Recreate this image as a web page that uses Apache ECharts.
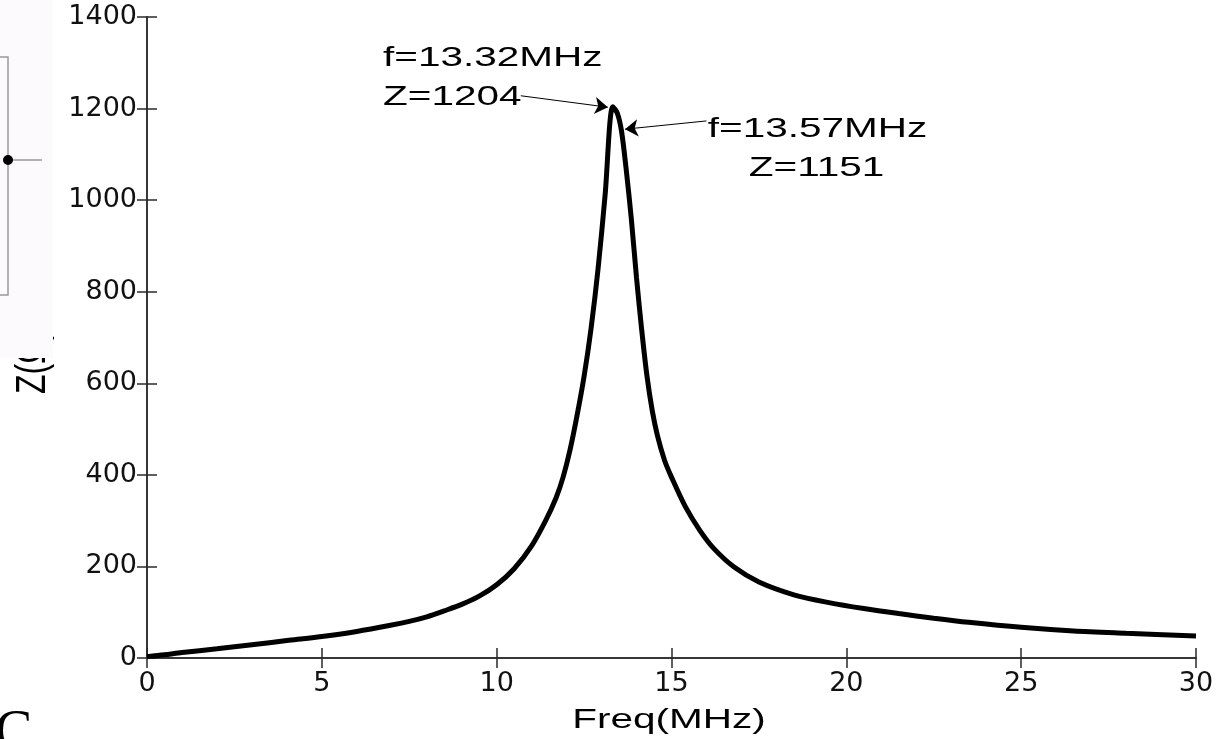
<!DOCTYPE html>
<html>
<head>
<meta charset="utf-8">
<script src="https://cdn.jsdelivr.net/npm/echarts@6/dist/echarts.min.js"></script>
<style>
  html, body { margin: 0; padding: 0; background: #fff; }
  #chart { width: 1227px; height: 739px; }
</style>
</head>
<body>
<div id="chart"></div>
<script>
// impedance curve
const freqMHz = [0, 0.5, 1, 2, 3, 4, 5, 6, 7, 7.5, 8, 8.5, 9, 9.5, 10, 10.5, 11, 11.4, 11.7, 11.9, 12.1, 12.3, 12.5, 12.7, 12.9,
  13.1, 13.32, 13.45, 13.57, 13.7, 13.85, 14.0, 14.15, 14.3, 14.45, 14.6, 14.8, 15.0, 15.4, 15.8, 16.2, 16.8, 17.5, 18.5, 19.5,
  20.5, 21.5, 22.5, 23.5, 25, 26.5, 28, 30]
const impedance = [3, 7, 12, 20, 29, 38, 47, 58, 72, 80, 90, 103, 117, 135, 160, 195, 245, 300, 350, 395, 455, 530, 615, 720, 850,
  1010, 1204, 1190, 1151, 1070, 960, 830, 715, 615, 540, 485, 432, 395, 330, 280, 240, 198, 166, 138, 121,
  108, 97, 87, 78, 67, 59, 54, 48]

// annotations: text + where the text sits (data coords)
const noteTexts = ['f=13.32MHz', 'Z=1204', 'f=13.57MHz', 'Z=1151']
const noteAnchors = [[6.75, 1310], [6.75, 1223], [16.04, 1155], [17.21, 1068]]
// arrows: from text to curve point
const arrowFrom = [[10.69, 1228], [16.0, 1173]]
const arrowTo = [[13.18, 1203], [13.67, 1155]]

const axisColor = '#2a2a2a'
const tickFont = { color: '#111', fontSize: 27, fontFamily: 'DejaVu Sans', formatter: v => String(v) }

const chart = echarts.init(document.getElementById('chart'))

const option = {
  animation: false,
  backgroundColor: '#ffffff',
  grid: { left: 147, right: 31, top: 17, bottom: 81 },
  xAxis: [
    {
      type: 'value', min: 0, max: 30, interval: 5,
      axisLine: { show: true, lineStyle: { color: axisColor, width: 1.5 } },
      axisTick: { show: true, inside: true, length: 10, lineStyle: { color: axisColor, width: 1.5 } },
      axisLabel: { ...tickFont, margin: 12 },
      splitLine: { show: false }
    },
    {
      type: 'value', min: 0, max: 30, interval: 5, position: 'top',
      axisLine: { show: true, lineStyle: { color: axisColor, width: 1.5 } },
      axisTick: { show: true, inside: true, length: 10, lineStyle: { color: axisColor, width: 1.5 } },
      axisLabel: { show: false },
      splitLine: { show: false }
    }
  ],
  yAxis: [
    {
      type: 'value', min: 0, max: 1400, interval: 200,
      axisLine: { show: true, lineStyle: { color: axisColor, width: 1.5 } },
      axisTick: { show: true, inside: true, length: 10, lineStyle: { color: axisColor, width: 1.5 } },
      axisLabel: { ...tickFont, margin: 10 },
      splitLine: { show: false }
    },
    {
      type: 'value', min: 0, max: 1400, interval: 200, position: 'right',
      axisLine: { show: true, lineStyle: { color: axisColor, width: 1.5 } },
      axisTick: { show: true, inside: true, length: 10, lineStyle: { color: axisColor, width: 1.5 } },
      axisLabel: { show: false },
      splitLine: { show: false }
    }
  ],
  series: [
    {
      type: 'line',
      data: freqMHz.map((f, i) => [f, impedance[i]]),
      showSymbol: false,
      smooth: 0.3,
      lineStyle: { color: '#000', width: 5 },
      silent: true,
      z: 2,
      markLine: {
        silent: true,
        symbol: ['none', 'arrow'],
        symbolSize: 13,
        z: 5,
        label: { show: false },
        emphasis: { disabled: true },
        lineStyle: { color: '#000', width: 1, type: 'solid' },
        data: arrowFrom.map((p, i) => [{ coord: p }, { coord: arrowTo[i] }])
      }
    }
  ]
}
chart.setOption(option)

// text pieces: the picture is stretched sideways, so stretch the text too
const notes = noteTexts.map((t, i) => {
  const p = chart.convertToPixel({ xAxisIndex: 0, yAxisIndex: 0 }, noteAnchors[i])
  return {
    type: 'text', x: p[0], y: p[1], scaleX: 1.5, z: 10,
    style: { text: t, font: '27px "Liberation Sans"', fill: '#000', align: 'left', verticalAlign: 'middle' }
  }
})

chart.setOption({
  graphic: [
    ...notes,
    {
      type: 'text', x: 669, y: 721, scaleX: 1.5, z: 10,
      style: { text: 'Freq(MHz)', font: '27px "Liberation Sans"', fill: '#000', align: 'center', verticalAlign: 'middle' }
    },
    // cut-off y label from the neighbouring figure
    {
      type: 'text', x: 33, y: 394, rotation: Math.PI / 2, scaleY: 1.35, z: 5,
      style: { text: 'Z(Ω)', font: '32px "Liberation Sans"', fill: '#000', align: 'left', verticalAlign: 'middle' }
    },
    // neighbouring figure panel
    { type: 'rect', shape: { x: 0, y: 0, width: 53, height: 358 }, style: { fill: '#fcfafd' }, z: 6 },
    { type: 'polyline', shape: { points: [[0, 57], [8, 57], [8, 295], [0, 295]] }, style: { stroke: '#9a9a9a', lineWidth: 1.5, fill: null }, z: 7 },
    { type: 'line', shape: { x1: 8, y1: 160, x2: 42, y2: 160 }, style: { stroke: '#9a9a9a', lineWidth: 1.5 }, z: 7 },
    { type: 'circle', shape: { cx: 8, cy: 160, r: 5 }, style: { fill: '#000' }, z: 8 },
    {
      type: 'text', x: -5, y: 706, z: 10,
      style: { text: 'C', font: '56px "Liberation Serif"', fill: '#000', align: 'left', verticalAlign: 'top' }
    }
  ]
})
</script>
</body>
</html>
